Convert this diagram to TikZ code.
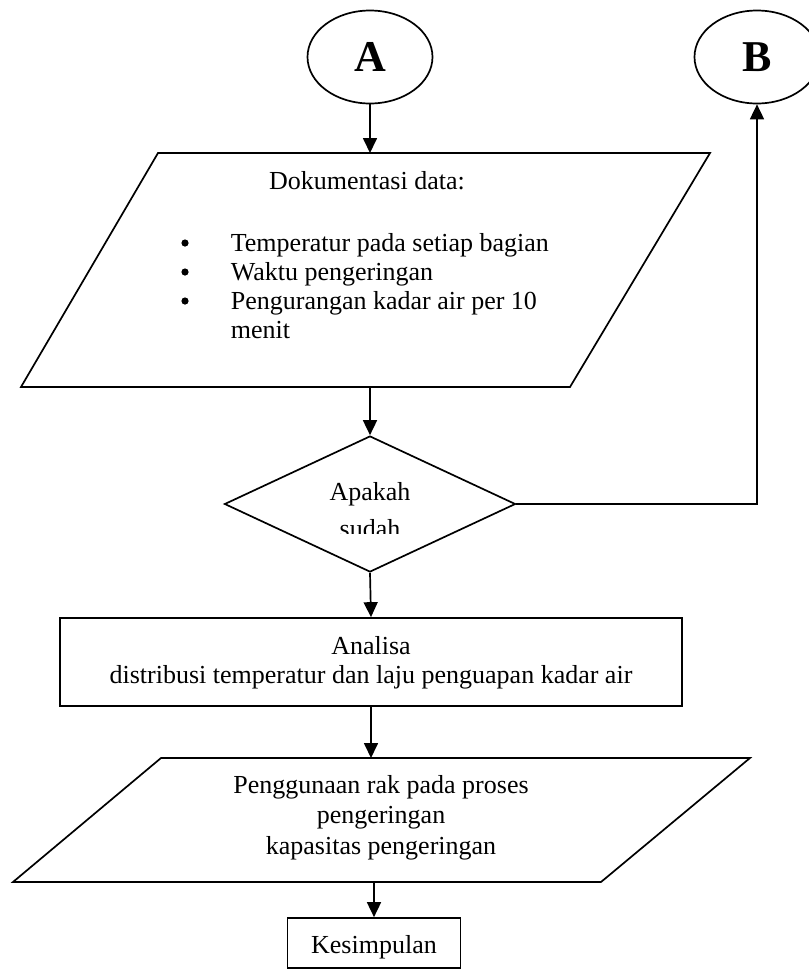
\documentclass[tikz,border=0pt]{standalone}
\usepackage{fontspec}
\setmainfont{Liberation Serif}
\usetikzlibrary{arrows.meta,shapes.geometric}
\begin{document}
\begin{tikzpicture}[x=0.5pt,y=-0.5pt, line width=0.85pt,
  arr/.style={-{Triangle[length=7.5pt,width=7pt]}},
  txt/.style={font=\fontsize{13}{15}\selectfont, inner sep=0pt, anchor=base},
  txtw/.style={font=\fontsize{13}{15}\selectfont, inner sep=0pt, anchor=base west},
  dot/.style={circle, fill, inner sep=0pt, minimum size=3.6pt},
  big/.style={font=\fontsize{22}{26}\selectfont\bfseries},
  conn/.style={draw, ellipse, minimum width=62.5pt, minimum height=46.5pt, inner sep=0pt, big}]
\useasboundingbox (0,0) rectangle (809,970);

% connectors A and B
\node[conn] (A) at (370,57) {A};
\node[conn] (B) at (757,57) {B};

% parallelogram 1
\draw (158,153) -- (710,153) -- (570,387) -- (21,387) -- cycle;
\coordinate (p1t) at (370,153);
\coordinate (p1b) at (370,387);
\node[txt] (doc) at (367,189) {Dokumentasi data:};
\node[dot] (b1) at (185,243) {};
\node[dot] (b2) at (185,272) {};
\node[dot] (b3) at (185,301) {};
\node[txtw] (t1) at (230,251) {Temperatur pada setiap bagian};
\node[txtw] (t2) at (230,280) {Waktu pengeringan};
\node[txtw] (t3) at (230,309) {Pengurangan kadar air per 10};
\node[txtw] (t4) at (230,338) {menit};

% decision
\node[draw, diamond, minimum width=145.5pt, minimum height=68pt, inner sep=0pt, aspect=2.14] (D) at (370,504) {};
\begin{scope}
  \clip (200,470) rectangle (540,533);
  \node[txt] (q1) at (370,500) {Apakah};
  \node[txt] (q2) at (370,537) {sudah};
\end{scope}

% analysis box
\node[draw, minimum width=311pt, minimum height=44pt, inner sep=0pt] (R) at (371,662) {};
\node[txt] (r1) at (371,654) {Analisa};
\node[txt] (r2) at (371,683) {distribusi temperatur dan laju penguapan kadar air};

% parallelogram 2
\draw (161,758) -- (750,758) -- (601,882) -- (13,882) -- cycle;
\coordinate (p2t) at (371,758);
\coordinate (p2b) at (374,882);
\node[txt] (u1) at (381,793) {Penggunaan rak pada proses};
\node[txt] (u2) at (381,823) {pengeringan};
\node[txt] (u3) at (381,854) {kapasitas pengeringan};

% conclusion
\node[draw, minimum width=86.5pt, minimum height=25pt, inner sep=0pt] (K) at (374,943) {};
\node[txt] (k1) at (374,953) {Kesimpulan};

% connectors
\draw[arr] (A) -- (p1t);
\draw[arr] (p1b) -- (D.north);
\draw[arr] (D.east) -| (B.south);
\draw[arr] (D.south) -- (R.north);
\draw[arr] (R.south) -- (p2t);
\draw[arr] (p2b) -- (K.north);
\end{tikzpicture}
\end{document}
